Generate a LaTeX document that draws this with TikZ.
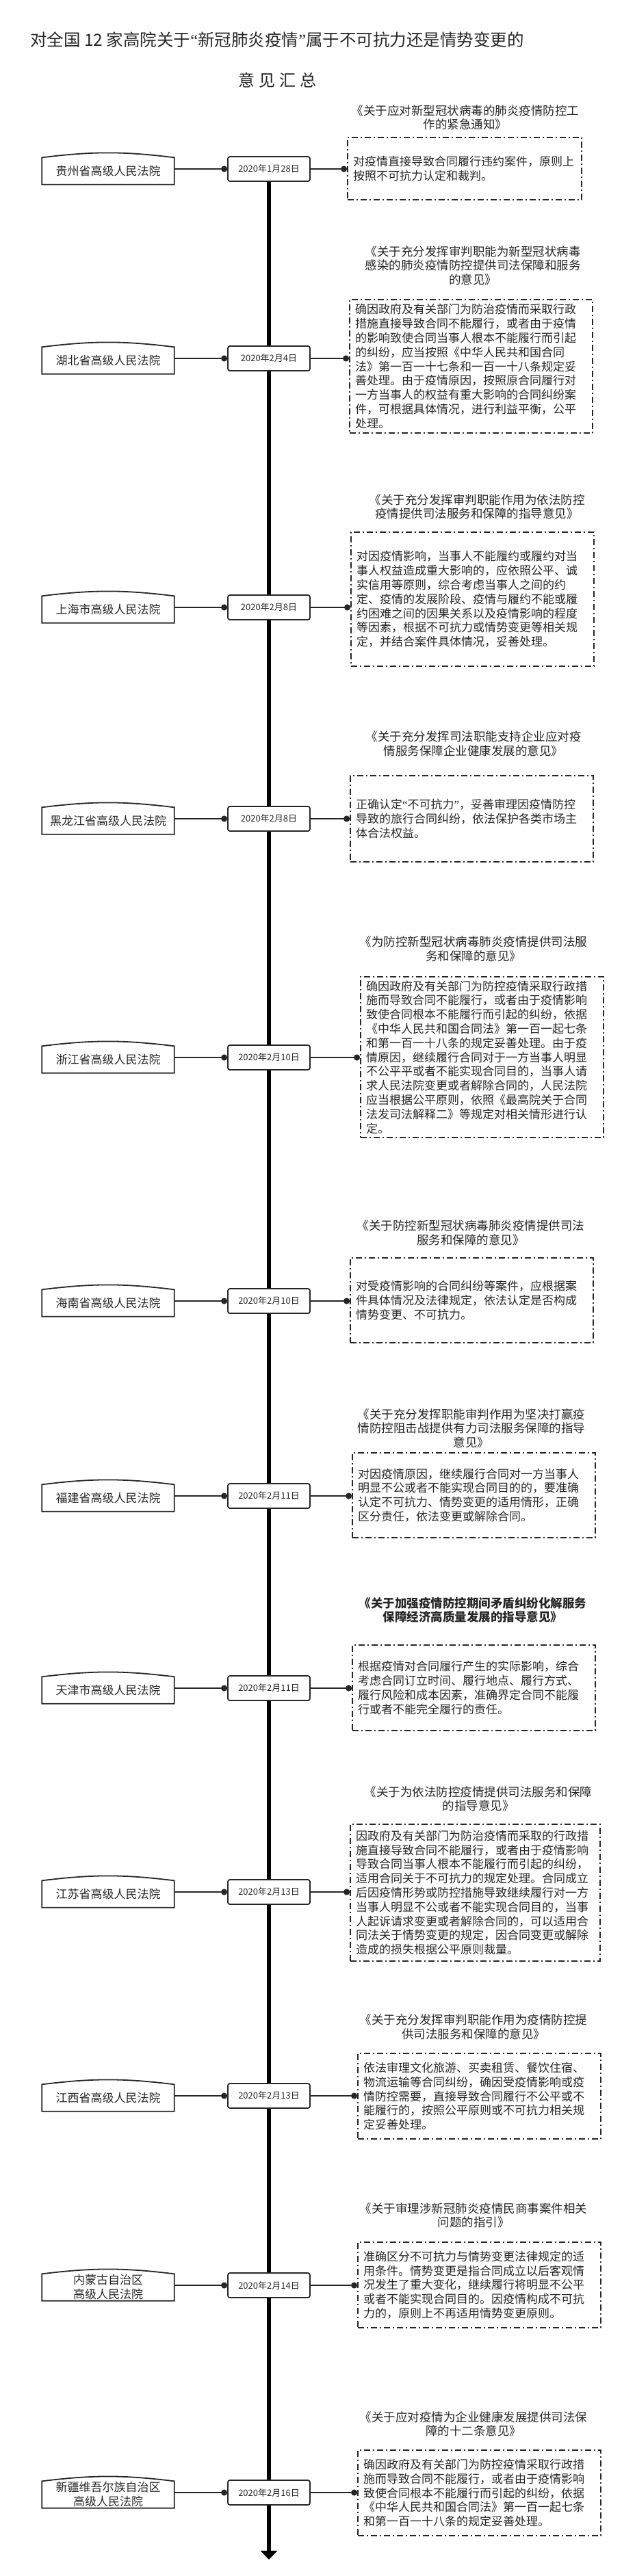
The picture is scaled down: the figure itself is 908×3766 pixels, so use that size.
\documentclass[tikz,border=0pt]{standalone}
\usepackage{fontspec}
\setmainfont{Noto Sans CJK SC}
\newfontfamily\quotefont{Liberation Serif}
\usetikzlibrary{arrows.meta}
\setlength{\parindent}{0pt}
\definecolor{ink}{HTML}{262626}
\newcommand{\openq}{{\quotefont “}}
\newcommand{\closeq}{{\quotefont ”}}

\tikzset{
  court/.style={minimum width=193pt, minimum height=39pt, inner sep=0pt, align=center,
    font=\fontsize{17pt}{21pt}\selectfont, text=ink},
  courtline/.style={draw=ink, line width=1.8pt},
  datebox/.style={draw=ink, line width=1.8pt, rounded corners=3pt, fill=white,
    minimum width=120pt, minimum height=36pt, inner sep=0pt,
    font=\fontsize{13pt}{15pt}\selectfont, text=ink},
  doctitle/.style={align=center, inner sep=0pt, font=\fontsize{17.5pt}{20.5pt}\selectfont, text=ink},
  opinion/.style={draw=ink, line width=1.8pt, dash pattern=on 9pt off 4pt on 2pt off 4pt,
    minimum width=355pt, text width=339pt, inner xsep=8pt, inner ysep=0pt, align=left,
    font=\fontsize{17pt}{20.8pt}\selectfont, text=ink},
  link/.style={draw=ink, line width=1.6pt, -{Circle[length=9pt,width=9pt]}},
  spine/.style={draw=black, line width=5.5pt},
}

\begin{document}
\begin{tikzpicture}[x=1pt,y=-1pt]

  \fill[white] (0,0) rectangle (908,3766);
  \useasboundingbox (0,0) rectangle (908,3766);

  % heading
  \node[text=ink, font=\fontsize{24.5pt}{28pt}\selectfont] (head) at (405,58)
    {对全国 12 家高院关于\openq 新冠肺炎疫情\closeq 属于不可抗力还是情势变更的};
  \node[text=ink, font=\fontsize{24pt}{28pt}\selectfont] (sub) at (405,117)
    {意\hspace{6pt}见\hspace{6pt}汇\hspace{6pt}总};

  % courts
  \node[court] (c1) at (158,250) {贵州省高级人民法院};
  \node[court] (c2) at (158,527) {湖北省高级人民法院};
  \node[court] (c3) at (158,891) {上海市高级人民法院};
  \node[court] (c4) at (158,1200) {黑龙江省高级人民法院};
  \node[court] (c5) at (158,1549) {浙江省高级人民法院};
  \node[court] (c6) at (158,1905) {海南省高级人民法院};
  \node[court] (c7) at (158,2190) {福建省高级人民法院};
  \node[court] (c8) at (158,2471) {天津市高级人民法院};
  \node[court] (c9) at (158,2769) {江苏省高级人民法院};
  \node[court] (c10) at (158,3067) {江西省高级人民法院};
  \node[court] (c11) at (158,3344) {内蒙古自治区\\高级人民法院};
  \node[court] (c12) at (158,3647) {新疆维吾尔族自治区\\高级人民法院};

  \foreach \n in {1,...,12}
    \draw[courtline] (c\n.south west) -- (c\n.north west) to[bend left=7]
      (c\n.north east) -- (c\n.south east) -- cycle;

  % dates
  \node[datebox] (d1) at (393,247) {2020年1月28日};
  \node[datebox] (d2) at (393,524) {2020年2月4日};
  \node[datebox] (d3) at (393,888) {2020年2月8日};
  \node[datebox] (d4) at (393,1197) {2020年2月8日};
  \node[datebox] (d5) at (393,1546) {2020年2月10日};
  \node[datebox] (d6) at (393,1902) {2020年2月10日};
  \node[datebox] (d7) at (393,2187) {2020年2月11日};
  \node[datebox] (d8) at (393,2468) {2020年2月11日};
  \node[datebox] (d9) at (393,2766) {2020年2月13日};
  \node[datebox] (d10) at (393,3064) {2020年2月13日};
  \node[datebox] (d11) at (393,3341) {2020年2月14日};
  \node[datebox] (d12) at (393,3644) {2020年2月16日};

  % document titles
  \node[doctitle] (t1) at (680,172) {《关于应对新型冠状病毒的肺炎疫情防控工\\作的紧急通知》};
  \node[doctitle] (t2) at (691,388) {《关于充分发挥审判职能为新型冠状病毒\\感染的肺炎疫情防控提供司法保障和服务\\的意见》};
  \node[doctitle] (t3) at (697,741) {《关于充分发挥审判职能作用为依法防控\\疫情提供司法服务和保障的指导意见》};
  \node[doctitle] (t4) at (692,1087.5) {《关于充分发挥司法职能支持企业应对疫\\情服务保障企业健康发展的意见》};
  \node[doctitle] (t5) at (692,1387.5) {《为防控新型冠状病毒肺炎疫情提供司法服\\务和保障的意见》};
  \node[doctitle] (t6) at (688,1802.5) {《关于防控新型冠状病毒肺炎疫情提供司法\\服务和保障的意见》};
  \node[doctitle] (t7) at (689,2088) {《关于充分发挥职能审判作用为坚决打赢疫\\情防控阻击战提供有力司法服务保障的指导\\意见》};
  \node[doctitle, font=\fontsize{17.5pt}{20.5pt}\selectfont\bfseries] (t8) at (691,2354) {《关于加强疫情防控期间矛盾纠纷化解服务\\保障经济高质量发展的指导意见》};
  \node[doctitle] (t9) at (699,2630) {《关于为依法防控疫情提供司法服务和保障\\的指导意见》};
  \node[doctitle] (t10) at (692,2963.5) {《关于充分发挥审判职能作用为疫情防控提\\供司法服务和保障的意见》};
  \node[doctitle] (t11) at (692,3239) {《关于审理涉新冠肺炎疫情民商事案件相关\\问题的指引》};
  \node[doctitle] (t12) at (692,3544) {《关于应对疫情为企业健康发展提供司法保\\障的十二条意见》};

  % opinions
  \node[opinion, minimum width=342pt, text width=326pt, minimum height=91pt] (b1) at (679,246.5)
    {对疫情直接导致合同履行违约案件，原则上\\按照不可抗力认定和裁判。};
  \node[opinion, minimum height=195pt] (b2) at (688.5,535.5)
    {确因政府及有关部门为防治疫情而采取行政\\措施直接导致合同不能履行，或者由于疫情\\的影响致使合同当事人根本不能履行而引起\\的纠纷，应当按照《中华人民共和国合同\\法》第一百一十七条和一百一十八条规定妥\\善处理。由于疫情原因，按照原合同履行对\\一方当事人的权益有重大影响的合同纠纷案\\件，可根据具体情况，进行利益平衡，公平\\处理。};
  \node[opinion, minimum height=196pt] (b3) at (690.5,876)
    {对因疫情影响，当事人不能履约或履约对当\\事人权益造成重大影响的，应依照公平、诚\\实信用等原则，综合考虑当事人之间的约\\定、疫情的发展阶段、疫情与履约不能或履\\约困难之间的因果关系以及疫情影响的程度\\等因素，根据不可抗力或情势变更等相关规\\定，并结合案件具体情况，妥善处理。};
  \node[opinion, minimum height=126pt] (b4) at (689.5,1197)
    {正确认定\openq 不可抗力\closeq ，妥善审理因疫情防控\\导致的旅行合同纠纷，依法保护各类市场主\\体合法权益。};
  \node[opinion, minimum height=235pt] (b5) at (704.5,1545.5)
    {确因政府及有关部门为防控疫情采取行政措\\施而导致合同不能履行，或者由于疫情影响\\致使合同根本不能履行而引起的纠纷，依据\\《中华人民共和国合同法》第一百一起七条\\和第一百一十八条的规定妥善处理。由于疫\\情原因，继续履行合同对于一方当事人明显\\不公平平或者不能实现合同目的，当事人请\\求人民法院变更或者解除合同的，人民法院\\应当根据公平原则，依照《最高院关于合同\\法发司法解释二》等规定对相关情形进行认\\定。};
  \node[opinion, minimum height=124pt] (b6) at (689.5,1901)
    {对受疫情影响的合同纠纷等案件，应根据案\\件具体情况及法律规定，依法认定是否构成\\情势变更、不可抗力。};
  \node[opinion, minimum height=124pt] (b7) at (692.5,2186)
    {对因疫情原因，继续履行合同对一方当事人\\明显不公或者不能实现合同目的的，要准确\\认定不可抗力、情势变更的适用情形，正确\\区分责任，依法变更或解除合同。};
  \node[opinion, minimum height=125pt] (b8) at (692.5,2467.5)
    {根据疫情对合同履行产生的实际影响，综合\\考虑合同订立时间、履行地点、履行方式、\\履行风险和成本因素，准确界定合同不能履\\行或者不能完全履行的责任。};
  \node[opinion, minimum width=365pt, text width=349pt, minimum height=200pt] (b9) at (694.5,2767)
    {因政府及有关部门为防治疫情而采取的行政措\\施直接导致合同不能履行，或者由于疫情影响\\导致合同当事人根本不能履行而引起的纠纷，\\适用合同关于不可抗力的规定处理。合同成立\\后因疫情形势或防控措施导致继续履行对一方\\当事人明显不公或者不能实现合同目的，当事\\人起诉请求变更或者解除合同的，可以适用合\\同法关于情势变更的规定，因合同变更或解除\\造成的损失根据公平原则裁量。};
  \node[opinion, minimum height=125pt] (b10) at (700.5,3064.5)
    {依法审理文化旅游、买卖租赁、餐饮住宿、\\物流运输等合同纠纷，确因受疫情影响或疫\\情防控需要，直接导致合同履行不公平或不\\能履行的，按照公平原则或不可抗力相关规\\定妥善处理。};
  \node[opinion, minimum height=125pt] (b11) at (700.5,3340.5)
    {准确区分不可抗力与情势变更法律规定的适\\用条件。情势变更是指合同成立以后客观情\\况发生了重大变化，继续履行将明显不公平\\或者不能实现合同目的。因疫情构成不可抗\\力的，原则上不再适用情势变更原则。};
  \node[opinion, minimum height=125pt] (b12) at (700.5,3644.5)
    {确因政府及有关部门为防控疫情采取行政措\\施而导致合同不能履行，或者由于疫情影响\\致使合同根本不能履行而引起的纠纷，依据\\《中华人民共和国合同法》第一百一起七条\\和第一百一十八条的规定妥善处理。};

  % links
  \foreach \n in {1,...,12} {
    \draw[link] (c\n.east |- d\n.west) -- (d\n.west);
    \draw[link] (d\n.east) -- (d\n.east -| b\n.west);
  }

  % time line
  \coordinate (tip) at (393,3742);
  \foreach \n [evaluate=\n as \m using int(\n+1)] in {1,...,11}
    \draw[spine] (d\n.south) -- (d\m.north);
  \draw[spine, -{Triangle[width=24pt,length=13pt]}] (d12.south) -- (tip);

\end{tikzpicture}
\end{document}
